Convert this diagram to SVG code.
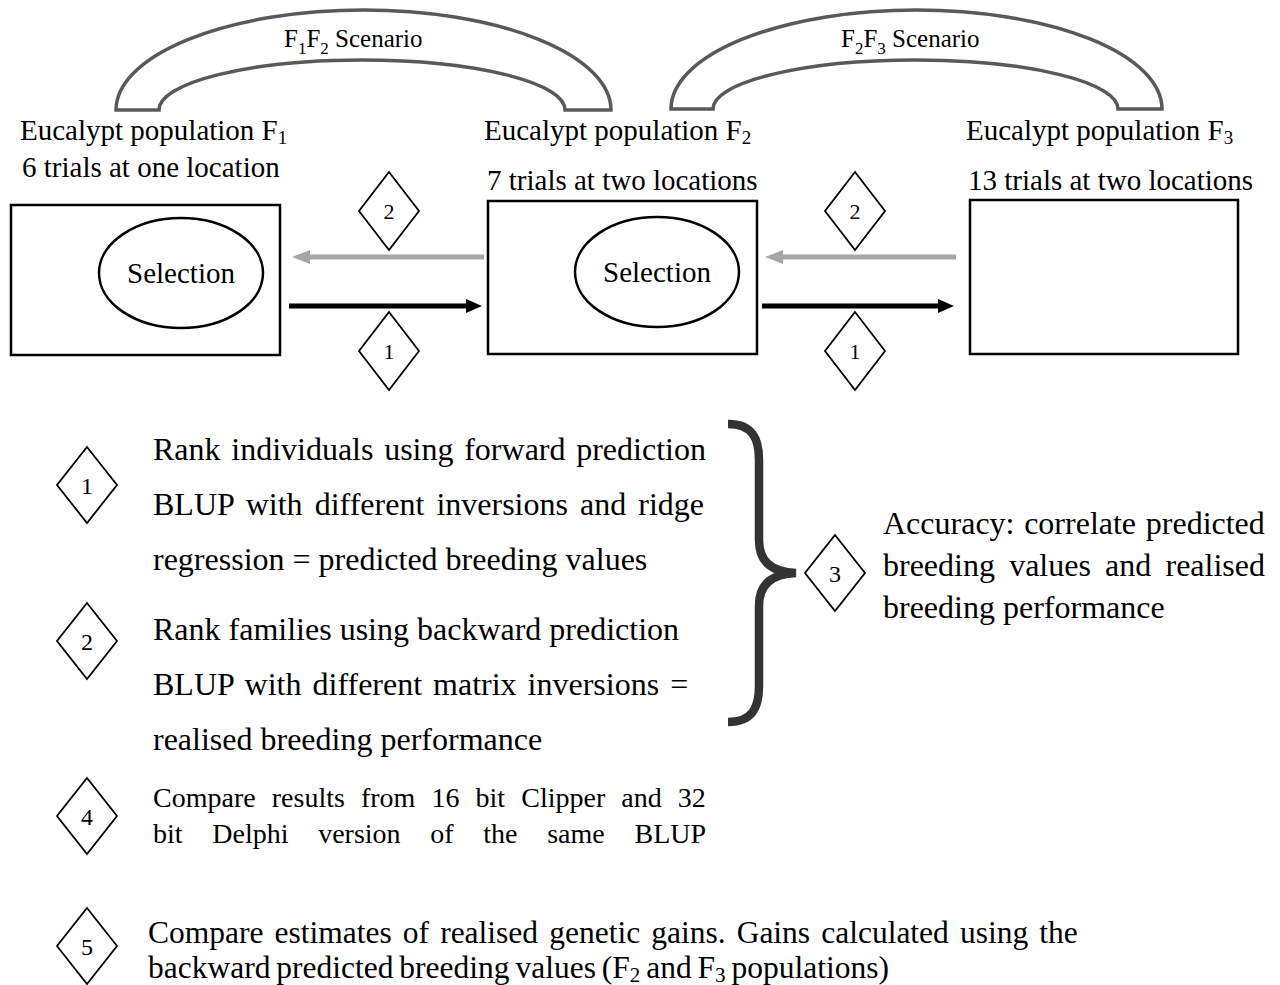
<svg xmlns="http://www.w3.org/2000/svg" width="1280" height="985" viewBox="0 0 1280 985">
<style>
text{font-family:"Liberation Serif","Times New Roman",serif;fill:#000}
.lbl{font-size:29px}
.scn{font-size:25px}
.para{font-size:32px}
.p4{font-size:28px}
.p5{font-size:31.5px}
.num{font-size:22px;text-anchor:middle}
.numL{font-size:24px;text-anchor:middle}
.box{fill:#fff;stroke:#000;stroke-width:2.5}
.ell{fill:#fff;stroke:#000;stroke-width:2.5}
.dia{fill:#fff;stroke:#000;stroke-width:1.8}
.arch{fill:#fff;stroke:#595959;stroke-width:3.5}
.fwd{stroke:#000;stroke-width:5;fill:none}
.bwd{stroke:#a6a6a6;stroke-width:5;fill:none}
.brace{fill:none;stroke:#333;stroke-width:8.5}
</style>
<defs>
<marker id="ahB" markerUnits="userSpaceOnUse" markerWidth="16" markerHeight="14" refX="0" refY="7" orient="auto"><path d="M0,0 L16,7 L0,14 z" fill="#000"/></marker>
<marker id="ahG" markerUnits="userSpaceOnUse" markerWidth="18" markerHeight="14" refX="0" refY="7" orient="auto"><path d="M0,0 L18,7 L0,14 z" fill="#a6a6a6"/></marker>
</defs>

<g id="scenario-f1f2">
<path class="arch" d="M116,110 A247.5,100 0 0 1 611,110 L565,110 A203,50 0 0 0 159,110 Z"/>
<text class="scn" x="284" y="47">F<tspan font-size="17" dy="7">1</tspan><tspan dy="-7">F</tspan><tspan font-size="17" dy="7">2</tspan><tspan dy="-7"> Scenario</tspan></text>
</g>
<g id="scenario-f2f3">
<path class="arch" d="M671,109 A245.5,99 0 0 1 1162,109 L1118,109 A202.5,49 0 0 0 713,109 Z"/>
<text class="scn" x="841" y="47">F<tspan font-size="17" dy="7">2</tspan><tspan dy="-7">F</tspan><tspan font-size="17" dy="7">3</tspan><tspan dy="-7"> Scenario</tspan></text>
</g>

<g id="pop-f1">
<text class="lbl" x="20" y="140">Eucalypt population F<tspan font-size="19" dy="4">1</tspan></text>
<text class="lbl" x="22" y="177">6 trials at one location</text>
<rect class="box" x="11" y="205" width="269" height="150"/>
<ellipse class="ell" cx="181" cy="273" rx="82" ry="55"/>
<text class="lbl" x="181" y="283" text-anchor="middle">Selection</text>
</g>
<g id="pop-f2">
<text class="lbl" x="484" y="140">Eucalypt population F<tspan font-size="19" dy="4">2</tspan></text>
<text class="lbl" x="487" y="190">7 trials at two locations</text>
<rect class="box" x="488" y="201" width="269" height="153"/>
<ellipse class="ell" cx="657" cy="272" rx="82" ry="55"/>
<text class="lbl" x="657" y="282" text-anchor="middle">Selection</text>
</g>
<g id="pop-f3">
<text class="lbl" x="966" y="140">Eucalypt population F<tspan font-size="19" dy="4">3</tspan></text>
<text class="lbl" x="968" y="190">13 trials at two locations</text>
<rect class="box" x="970" y="200" width="268" height="154"/>
</g>

<g id="connectors">
<line class="bwd" x1="484" y1="257" x2="310" y2="257" marker-end="url(#ahG)"/>
<line class="fwd" x1="289" y1="306" x2="466" y2="306" marker-end="url(#ahB)"/>
<line class="bwd" x1="956" y1="257" x2="783" y2="257" marker-end="url(#ahG)"/>
<line class="fwd" x1="762" y1="306" x2="938" y2="306" marker-end="url(#ahB)"/>
</g>

<g id="step2-a"><polygon class="dia" points="389,172 419,211 389,250 359,211"/><text class="num" x="389" y="219">2</text></g>
<g id="step1-a"><polygon class="dia" points="389,312 419,351 389,390 359,351"/><text class="num" x="389" y="359">1</text></g>
<g id="step2-b"><polygon class="dia" points="855,172 885,211 855,250 825,211"/><text class="num" x="855" y="219">2</text></g>
<g id="step1-b"><polygon class="dia" points="855,312 885,351 855,390 825,351"/><text class="num" x="855" y="359">1</text></g>

<g id="legend-1">
<polygon class="dia" points="87,447 117,485 87,523 57,485"/><text class="numL" x="87" y="494">1</text>
<text class="para" x="153" y="460" word-spacing="2.7">Rank individuals using forward prediction</text>
<text class="para" x="153" y="515" word-spacing="4.1">BLUP with different inversions and ridge</text>
<text class="para" x="153" y="570">regression = predicted breeding values</text>
</g>
<g id="legend-2">
<polygon class="dia" points="87,603 117,641 87,679 57,641"/><text class="numL" x="87" y="650">2</text>
<text class="para" x="153" y="640">Rank families using backward prediction</text>
<text class="para" x="153" y="695" word-spacing="3">BLUP with different matrix inversions =</text>
<text class="para" x="153" y="750">realised breeding performance</text>
</g>
<g id="brace">
<path class="brace" d="M728,424 C752,424 759,438 759,460 L759,540 C759,561 771,572 796,573 C771,574 759,585 759,606 L759,686 C759,708 752,722 728,722"/>
</g>
<g id="legend-3">
<polygon class="dia" points="835,535 865,573 835,611 805,573"/><text class="numL" x="835" y="582">3</text>
<text class="para" x="883" y="534" word-spacing="1.7">Accuracy: correlate predicted</text>
<text class="para" x="883" y="576" word-spacing="6.2">breeding values and realised</text>
<text class="para" x="883" y="618">breeding performance</text>
</g>
<g id="legend-4">
<polygon class="dia" points="87,778 117,816 87,854 57,816"/><text class="numL" x="87" y="825">4</text>
<text class="p4" x="153" y="807" word-spacing="9.1">Compare results from 16 bit Clipper and 32</text>
<text class="p4" x="153" y="843" word-spacing="22.7">bit Delphi version of the same BLUP</text>
</g>
<g id="legend-5">
<polygon class="dia" points="87,908 117,946 87,984 57,946"/><text class="numL" x="87" y="955">5</text>
<text class="p5" x="148" y="943" word-spacing="3.2">Compare estimates of realised genetic gains. Gains calculated using the</text>
<text class="p5" x="148" y="978" word-spacing="-2">backward predicted breeding values (F<tspan font-size="21" dy="4">2</tspan><tspan dy="-4"> and F</tspan><tspan font-size="21" dy="4">3</tspan><tspan dy="-4"> populations)</tspan></text>
</g>
</svg>
